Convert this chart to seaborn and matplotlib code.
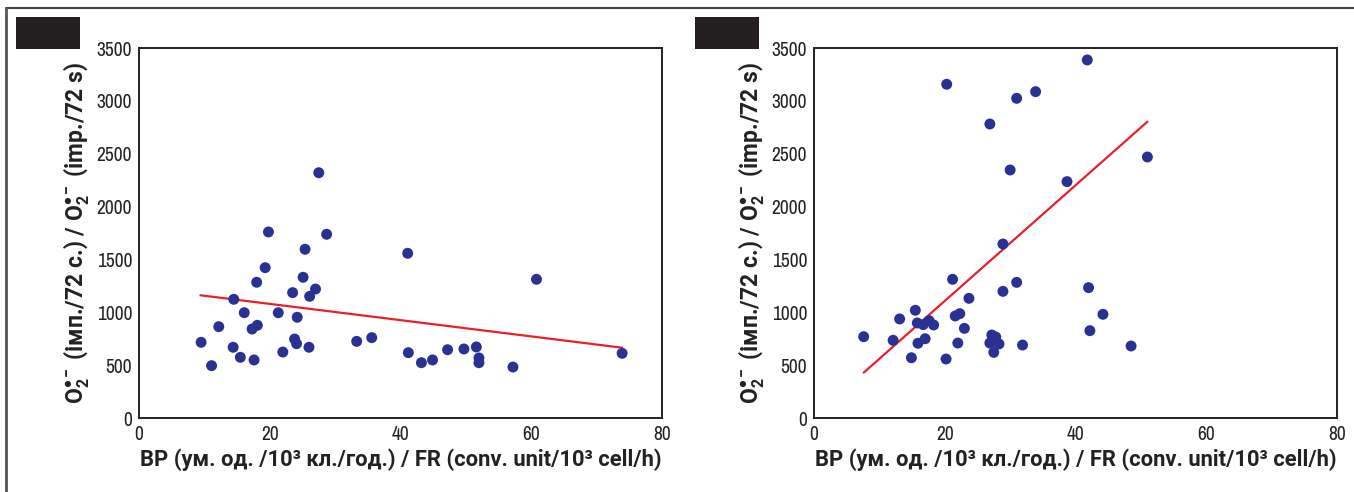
import matplotlib
matplotlib.use("Agg")
import matplotlib.pyplot as plt
from matplotlib import font_manager
from matplotlib.lines import Line2D
from matplotlib.patches import Rectangle
import seaborn as sns
import pandas as pd

# ---- data ----
left_x = [27.5, 19.8, 28.7, 25.4, 19.3, 18.0, 25.1, 27.0, 23.5, 26.1, 14.5, 16.1, 21.3,
          24.2, 12.2, 18.1, 17.3, 9.5, 14.4, 23.8, 24.1, 26.0, 22.0, 33.3, 15.5, 17.6,
          11.1, 41.1, 60.8, 35.6, 41.2, 43.2, 44.9, 47.2, 49.7, 51.6, 52.0, 52.0, 57.2, 73.9]
left_y = [2320, 1760, 1738, 1596, 1422, 1284, 1331, 1220, 1186, 1151, 1123, 996, 996,
          953, 864, 877, 842, 716, 669, 747, 703, 669, 624, 725, 574, 549,
          495, 1558, 1312, 760, 618, 523, 549, 646, 653, 672, 568, 523, 482, 612]
left_line_x = [9.4, 73.9]
left_line_y = [1161, 665]

right_x = [20.3, 41.8, 31.0, 33.9, 26.9, 51.0, 30.0, 38.7, 28.9, 7.6, 12.1, 13.1, 15.5,
           15.8, 16.7, 17.6, 18.3, 15.9, 17.0, 14.9, 20.2, 21.2, 23.7, 21.6, 22.3, 23.0,
           22.0, 27.2, 27.8, 26.9, 28.3, 27.5, 28.9, 31.0, 31.9, 42.0, 44.2, 42.2, 48.5]
right_y = [3157, 3387, 3024, 3087, 2781, 2469, 2346, 2236, 1646, 769, 735, 937, 1019,
           899, 883, 921, 880, 707, 750, 570, 558, 1312, 1132, 965, 987, 848,
           709, 785, 766, 709, 700, 621, 1198, 1283, 690, 1233, 981, 826, 681]
right_line_x = [7.6, 51.0]
right_line_y = [429, 2803]

x_ticks = [0, 20, 40, 60, 80]
y_ticks = [0, 500, 1000, 1500, 2000, 2500, 3000, 3500]

x_label = "BP (ум. од. /10\u00b3 кл./год.) / FR (conv. unit/10\u00b3 cell/h)"
y_label = "O$_2^{\\bullet -}$ (імп./72 с.) / O$_2^{\\bullet -}$ (imp./72 s)"

# ---- fonts: narrow font for tick numbers if installed, Roboto bold for labels ----
names = sorted({f.name for f in font_manager.fontManager.ttflist})
narrow = [n for n in names if ("Narrow" in n or "Condensed" in n)]
tick_font = narrow[0] if narrow else "Roboto"
tick_fs = 14 if narrow else 12.5
label_font = ["Roboto", "DejaVu Sans"]
xlab_fs = 15.8
ylab_fs = 16.5

sns.set_theme(style="white")
plt.rcParams["font.family"] = [tick_font, "DejaVu Sans"]
plt.rcParams["mathtext.fontset"] = "custom"
for k in ("rm", "it", "bf", "sf"):
    plt.rcParams["mathtext." + k] = "Roboto:bold"

DOT = "#2B3192"
RED = "#E8202A"
INK = "#222222"
W, H = 1354, 492
fig = plt.figure(figsize=(W / 100, H / 100), dpi=100)

# outer frame lines (top and left)
fig.add_artist(Line2D([6 / W, 1.0], [1 - 8 / H, 1 - 8 / H], color="#444444", lw=1.5))
fig.add_artist(Line2D([6 / W, 6 / W], [0, 1 - 8 / H], color="#555555", lw=2.0))

panels = [
    (139, left_x, left_y, left_line_x, left_line_y, 16),
    (814, right_x, right_y, right_line_x, right_line_y, 695),
]
for x0, xs, ys, lx, ly, bx in panels:
    ax = fig.add_axes([x0 / W, (H - 418) / H, 523 / W, 370 / H])
    df = pd.DataFrame({"x": xs, "y": ys})
    ldf = pd.DataFrame({"x": lx, "y": ly})
    sns.lineplot(data=ldf, x="x", y="y", ax=ax, color=RED, lw=1.6, zorder=2)
    sns.scatterplot(data=df, x="x", y="y", ax=ax, color=DOT, s=62, edgecolor="none",
                    linewidth=0, zorder=3)
    ax.set_xlim(0, 80)
    ax.set_ylim(0, 3500)
    ax.set_xticks(x_ticks)
    ax.set_yticks(y_ticks)
    ax.tick_params(axis="both", length=0, labelsize=tick_fs, colors=INK, pad=5)
    for sp in ax.spines.values():
        sp.set_color(INK)
        sp.set_linewidth(1.4)
        sp.set_visible(True)
    ax.set_xlabel(x_label, fontsize=xlab_fs, fontweight="bold", color=INK, labelpad=3,
                  family=label_font)
    ax.set_ylabel(y_label, fontsize=ylab_fs, fontweight="bold", color=INK, labelpad=3,
                  family=label_font)
    ax.grid(False)
    # black label box
    fig.add_artist(Rectangle((bx / W, 1 - 49 / H), 64 / W, 32 / H,
                             transform=fig.transFigure, color="#231F20", lw=0))

fig.savefig("out.png", dpi=100)
